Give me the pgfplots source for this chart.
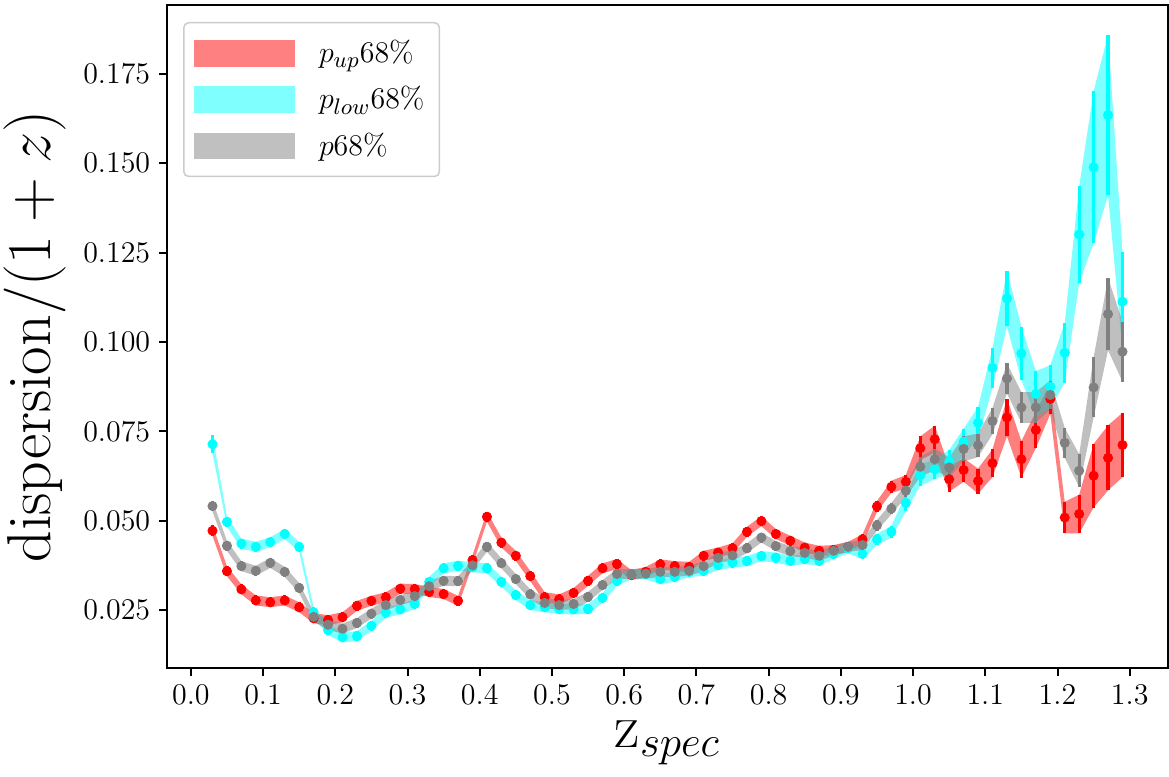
\documentclass[border=0pt]{standalone}
\usepackage{pgfplots}
\pgfplotsset{compat=1.18}
\usepackage{pgfplotstable}
\usepgfplotslibrary{fillbetween}

\definecolor{myred}{RGB}{255,0,0}
\definecolor{mycyan}{RGB}{0,255,255}
\definecolor{mygray}{RGB}{128,128,128}

\pgfplotstableread{
x r re c ce g ge
0.03 0.0472 0.0015 0.0714 0.0025 0.0541 0.0015
0.05 0.0359 0.0014 0.0497 0.0014 0.0430 0.0014
0.07 0.0308 0.0014 0.0436 0.0014 0.0373 0.0014
0.09 0.0277 0.0014 0.0427 0.0014 0.0360 0.0014
0.11 0.0272 0.0014 0.0440 0.0014 0.0382 0.0014
0.13 0.0277 0.0014 0.0463 0.0014 0.0357 0.0014
0.15 0.0258 0.0014 0.0427 0.0014 0.0312 0.0014
0.17 0.0227 0.0014 0.0244 0.0014 0.0231 0.0014
0.19 0.0222 0.0014 0.0194 0.0014 0.0209 0.0014
0.21 0.0230 0.0014 0.0174 0.0014 0.0198 0.0014
0.23 0.0262 0.0014 0.0177 0.0014 0.0214 0.0014
0.25 0.0276 0.0014 0.0206 0.0014 0.0240 0.0014
0.27 0.0286 0.0014 0.0243 0.0014 0.0264 0.0014
0.29 0.0310 0.0014 0.0252 0.0014 0.0278 0.0014
0.31 0.0309 0.0014 0.0267 0.0014 0.0289 0.0014
0.33 0.0301 0.0014 0.0329 0.0014 0.0317 0.0014
0.35 0.0295 0.0014 0.0367 0.0014 0.0332 0.0014
0.37 0.0276 0.0014 0.0374 0.0014 0.0331 0.0014
0.39 0.0390 0.0014 0.0370 0.0014 0.0375 0.0014
0.41 0.0511 0.0014 0.0367 0.0014 0.0427 0.0014
0.43 0.0439 0.0014 0.0329 0.0014 0.0381 0.0014
0.45 0.0402 0.0014 0.0292 0.0014 0.0337 0.0014
0.47 0.0345 0.0014 0.0264 0.0014 0.0294 0.0014
0.49 0.0286 0.0014 0.0258 0.0014 0.0270 0.0014
0.51 0.0280 0.0014 0.0253 0.0014 0.0264 0.0014
0.53 0.0298 0.0014 0.0252 0.0014 0.0267 0.0014
0.55 0.0332 0.0014 0.0253 0.0014 0.0287 0.0014
0.57 0.0367 0.0014 0.0284 0.0014 0.0320 0.0014
0.59 0.0379 0.0014 0.0332 0.0014 0.0351 0.0014
0.61 0.0348 0.0014 0.0350 0.0014 0.0351 0.0014
0.63 0.0357 0.0014 0.0350 0.0014 0.0352 0.0014
0.65 0.0378 0.0014 0.0337 0.0014 0.0357 0.0014
0.67 0.0373 0.0014 0.0343 0.0014 0.0357 0.0014
0.69 0.0371 0.0014 0.0357 0.0014 0.0360 0.0014
0.71 0.0402 0.0014 0.0360 0.0014 0.0373 0.0014
0.73 0.0411 0.0014 0.0376 0.0014 0.0396 0.0014
0.75 0.0423 0.0014 0.0383 0.0014 0.0403 0.0014
0.77 0.0469 0.0014 0.0387 0.0014 0.0423 0.0014
0.79 0.0499 0.0014 0.0401 0.0014 0.0453 0.0014
0.81 0.0463 0.0014 0.0397 0.0014 0.0429 0.0014
0.83 0.0444 0.0014 0.0388 0.0014 0.0415 0.0014
0.85 0.0425 0.0014 0.0393 0.0014 0.0410 0.0014
0.87 0.0416 0.0014 0.0388 0.0014 0.0402 0.0014
0.89 0.0418 0.0014 0.0407 0.0014 0.0416 0.0014
0.91 0.0427 0.0014 0.0423 0.0014 0.0427 0.0014
0.93 0.0448 0.0014 0.0407 0.0014 0.0432 0.0014
0.95 0.0540 0.0015 0.0448 0.0015 0.0487 0.0015
0.97 0.0595 0.0017 0.0469 0.0017 0.0534 0.0016
0.99 0.0609 0.0019 0.0550 0.0023 0.0584 0.0018
1.01 0.0703 0.0033 0.0628 0.0030 0.0651 0.0028
1.03 0.0728 0.0038 0.0644 0.0028 0.0672 0.0030
1.05 0.0616 0.0035 0.0665 0.0033 0.0649 0.0028
1.07 0.0642 0.0033 0.0721 0.0037 0.0701 0.0035
1.09 0.0611 0.0035 0.0774 0.0044 0.0711 0.0033
1.11 0.0661 0.0039 0.0928 0.0056 0.0779 0.0037
1.13 0.0789 0.0053 0.1122 0.0078 0.0898 0.0042
1.15 0.0672 0.0051 0.0968 0.0075 0.0817 0.0043
1.17 0.0754 0.0051 0.0855 0.0064 0.0817 0.0043
1.19 0.0841 0.0042 0.0875 0.0060 0.0852 0.0040
1.21 0.0509 0.0044 0.0970 0.0084 0.0718 0.0042
1.23 0.0519 0.0054 0.1301 0.0135 0.0640 0.0046
1.25 0.0626 0.0089 0.1489 0.0213 0.0873 0.0084
1.27 0.0676 0.0091 0.1635 0.0224 0.1078 0.0101
1.29 0.0712 0.0090 0.1113 0.0138 0.0973 0.0084
}\data

\begin{document}
\begin{tikzpicture}
\begin{axis}[
  at={(0pt,0pt)}, anchor=south west,
  scale only axis, width=400.4pt, height=265.2pt,
  xmin=-0.033, xmax=1.353, ymin=0.0088, ymax=0.1943,
  axis line style={line width=0.8pt},
  every tick/.style={line width=0.8pt, black},
  tick align=outside, major tick length=3.2pt,
  xtick pos=bottom, ytick pos=left,
  xtick={0,0.1,0.2,0.3,0.4,0.5,0.6,0.7,0.8,0.9,1.0,1.1,1.2,1.3},
  ytick={0.025,0.05,0.075,0.1,0.125,0.15,0.175},
  x tick label style={/pgf/number format/.cd, fixed, fixed zerofill, precision=1},
  y tick label style={/pgf/number format/.cd, fixed, fixed zerofill, precision=3},
  tick label style={font=\fontsize{12.5}{15}\selectfont},
  scaled ticks=false,
  xlabel={$\mathrm{z}_{spec}$},
  ylabel={dispersion/$(1+z)$},
  label style={font=\fontsize{24.8}{30}\selectfont},
  xlabel style={inner sep=0pt, yshift=-3pt},
  legend cell align=left,
  legend style={at={(axis description cs:0,1)}, anchor=north west,
    xshift=6.4pt, yshift=-6.8pt, draw=black!20, rounded corners=2pt,
    line width=0.6pt, font=\fontsize{12.5}{15}\selectfont,
    inner xsep=4pt, inner ysep=5pt, row sep=4pt},
]
\addlegendimage{legend image code/.code={\fill[myred!50!white, sharp corners] (0pt,-5pt) rectangle (40pt,5pt); \path (47.5pt,0pt);}}
\addlegendentry{$p_{up}68\%$}
\addlegendimage{legend image code/.code={\fill[mycyan!50!white, sharp corners] (0pt,-5pt) rectangle (40pt,5pt); \path (47.5pt,0pt);}}
\addlegendentry{$p_{low}68\%$}
\addlegendimage{legend image code/.code={\fill[mygray!50!white, sharp corners] (0pt,-5pt) rectangle (40pt,5pt); \path (47.5pt,0pt);}}
\addlegendentry{$p68\%$}

% red: p_up
\addplot[name path=rU, draw=none, forget plot] table[x=x, y expr=\thisrow{r}+\thisrow{re}] {\data};
\addplot[name path=rL, draw=none, forget plot] table[x=x, y expr=\thisrow{r}-\thisrow{re}] {\data};
\addplot[myred, fill opacity=0.5, draw=none, forget plot] fill between[of=rU and rL];
\addplot[myred, only marks, mark=*, mark size=1.8pt, forget plot,
  error bars/.cd, y dir=both, y explicit, error mark=none,
  error bar style={line width=1.3pt, myred}]
  table[x=x, y=r, y error=re] {\data};

% cyan: p_low
\addplot[name path=cU, draw=none, forget plot] table[x=x, y expr=\thisrow{c}+\thisrow{ce}] {\data};
\addplot[name path=cL, draw=none, forget plot] table[x=x, y expr=\thisrow{c}-\thisrow{ce}] {\data};
\addplot[mycyan, fill opacity=0.5, draw=none, forget plot] fill between[of=cU and cL];
\addplot[mycyan, only marks, mark=*, mark size=1.8pt, forget plot,
  error bars/.cd, y dir=both, y explicit, error mark=none,
  error bar style={line width=1.3pt, mycyan}]
  table[x=x, y=c, y error=ce] {\data};

% gray: p
\addplot[name path=gU, draw=none, forget plot] table[x=x, y expr=\thisrow{g}+\thisrow{ge}] {\data};
\addplot[name path=gL, draw=none, forget plot] table[x=x, y expr=\thisrow{g}-\thisrow{ge}] {\data};
\addplot[mygray, fill opacity=0.5, draw=none, forget plot] fill between[of=gU and gL];
\addplot[mygray, only marks, mark=*, mark size=1.8pt, forget plot,
  error bars/.cd, y dir=both, y explicit, error mark=none,
  error bar style={line width=1.3pt, mygray}]
  table[x=x, y=g, y error=ge] {\data};
\end{axis}
\pgfresetboundingbox
\useasboundingbox (-66.8pt,-43.2pt) rectangle (400.8pt,267.2pt);
\end{tikzpicture}
\end{document}
